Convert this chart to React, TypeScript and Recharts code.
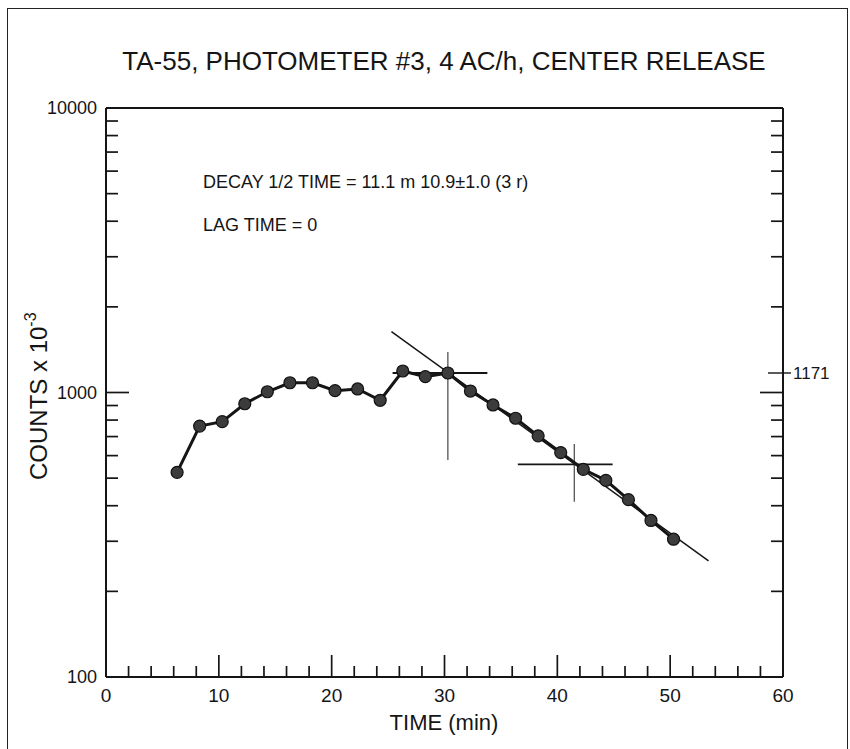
import React from "react";
import { ComposedChart, Line, XAxis, YAxis, ReferenceLine } from "recharts";

// sample times (min) and counts (x 10^-3)
const times = [6.3, 8.3, 10.3, 12.3, 14.3, 16.3, 18.3, 20.3, 22.3, 24.3, 26.3, 28.3, 30.3, 32.3, 34.3, 36.3, 38.3, 40.3, 42.3, 44.3, 46.3, 48.3, 50.3];
const counts = [524, 762, 790, 913, 1006, 1082, 1082, 1015, 1029, 939, 1190, 1137, 1171, 1012, 904, 812, 704, 615, 537, 491, 420, 355, 305];

// fitted decay line, end points
const fitTimes = [25.3, 53.4];
const fitCounts = [1636, 256];

// crosshair markers: [center t, center count, h from, h to, v top, v bottom]
const cross1 = [30.3, 1171, 25.4, 33.8, 1388, 579];
const cross2 = [41.5, 559, 36.5, 44.9, 659, 413];

const xTicks = [0, 2, 4, 6, 8, 10, 12, 14, 16, 18, 20, 22, 24, 26, 28, 30, 32, 34, 36, 38, 40, 42, 44, 46, 48, 50, 52, 54, 56, 58, 60];
const xLabels = [0, 10, 20, 30, 40, 50, 60];
const yTicks = [100, 200, 300, 400, 500, 600, 700, 800, 900, 1000, 2000, 3000, 4000, 5000, 6000, 7000, 8000, 9000, 10000];
const yLabels = [100, 1000, 10000];
const rightMark = 1171;

const data = times.map((t, i) => ({ t, v: counts[i] }));
const fitData = fitTimes.map((t, i) => ({ t, v: fitCounts[i] }));

const FONT = '"Liberation Sans", Arial, Helvetica, sans-serif';
const INK = "#151515";

const LeftTick = (props: any) => {
  const { x, y, payload } = props;
  const v = payload.value;
  const len = v === 1000 ? 23 : 12;
  return (
    <g>
      <line x1={x} y1={y} x2={x + len} y2={y} stroke={INK} strokeWidth={1.7} />
      {yLabels.includes(v) && (
        <text x={x - 9} y={y + 6} textAnchor="end" fontSize={18} fontFamily={FONT} fill={INK}>
          {v}
        </text>
      )}
    </g>
  );
};

const RightTick = (props: any) => {
  const { x, y, payload } = props;
  const v = payload.value;
  if (v === rightMark) {
    return (
      <g>
        <line x1={x - 15} y1={y} x2={x + 8} y2={y} stroke={INK} strokeWidth={1.4} />
        <text x={x + 10} y={y + 6} fontSize={17} fontFamily={FONT} fill={INK}>
          {v}
        </text>
      </g>
    );
  }
  const len = v === 1000 ? 23 : 12;
  return <line x1={x - len} y1={y} x2={x} y2={y} stroke={INK} strokeWidth={1.7} />;
};

const BottomTick = (props: any) => {
  const { x, y, payload } = props;
  const v = payload.value;
  const major = v % 10 === 0;
  return (
    <g>
      <line x1={x} y1={y} x2={x} y2={y - (major ? 22 : 11)} stroke={INK} strokeWidth={1.7} />
      {xLabels.includes(v) && (
        <text x={x} y={y + 25} textAnchor="middle" fontSize={19} fontFamily={FONT} fill={INK}>
          {v}
        </text>
      )}
    </g>
  );
};

const TopTick = (props: any) => {
  const { x, y, payload } = props;
  const major = payload.value % 10 === 0;
  return <line x1={x} y1={y} x2={x} y2={y + (major ? 22 : 11)} stroke={INK} strokeWidth={1.7} />;
};

const App: React.FC = () => {
  const crossLines = (c: number[], key: string) => [
    <ReferenceLine
      key={key + "h"}
      segment={[{ x: c[2], y: c[1] }, { x: c[3], y: c[1] }]}
      stroke={INK}
      strokeWidth={1.8}
    />,
    <ReferenceLine
      key={key + "v"}
      segment={[{ x: c[0], y: c[4] }, { x: c[0], y: c[5] }]}
      stroke="#333"
      strokeWidth={1.1}
    />,
  ];

  return (
    <div
      style={{
        position: "absolute",
        left: 0,
        top: 0,
        width: 850,
        height: 749,
        overflow: "hidden",
        background: "#fff",
      }}
    >
      <div
        style={{
          position: "absolute",
          left: 7,
          top: 8,
          width: 841,
          height: 800,
          border: "1.5px solid #222",
          boxSizing: "border-box",
        }}
      />
      <div style={{ position: "absolute", left: 0, top: 0 }}>
        <ComposedChart width={850} height={749} margin={{ top: 107, right: 66, bottom: 71, left: 105 }}>
          <XAxis
            xAxisId={0}
            dataKey="t"
            type="number"
            domain={[0, 60]}
            ticks={xTicks}
            interval={0}
            height={1}
            tickSize={0}
            tickMargin={0}
            tickLine={false}
            axisLine={{ stroke: INK, strokeWidth: 2 }}
            tick={(p: any) => <BottomTick {...p} />}
          />
          <XAxis
            xAxisId="top"
            orientation="top"
            dataKey="t"
            type="number"
            domain={[0, 60]}
            ticks={xTicks}
            interval={0}
            height={1}
            tickSize={0}
            tickMargin={0}
            tickLine={false}
            axisLine={{ stroke: INK, strokeWidth: 2 }}
            tick={(p: any) => <TopTick {...p} />}
          />
          <YAxis
            yAxisId={0}
            type="number"
            scale="log"
            domain={[100, 10000]}
            allowDataOverflow
            ticks={yTicks}
            interval={0}
            width={1}
            tickSize={0}
            tickMargin={0}
            tickLine={false}
            axisLine={{ stroke: INK, strokeWidth: 2 }}
            tick={(p: any) => <LeftTick {...p} />}
          />
          <YAxis
            yAxisId="right"
            orientation="right"
            type="number"
            scale="log"
            domain={[100, 10000]}
            allowDataOverflow
            ticks={[...yTicks, rightMark]}
            interval={0}
            width={1}
            tickSize={0}
            tickMargin={0}
            tickLine={false}
            axisLine={{ stroke: INK, strokeWidth: 2 }}
            tick={(p: any) => <RightTick {...p} />}
          />
          {crossLines(cross1, "c1")}
          {crossLines(cross2, "c2")}
          <Line
            data={fitData}
            dataKey="v"
            type="linear"
            stroke={INK}
            strokeWidth={1.5}
            dot={false}
            isAnimationActive={false}
          />
          <Line
            data={data}
            dataKey="v"
            type="linear"
            stroke={INK}
            strokeWidth={3}
            dot={{ r: 6, fill: "#3c3c3c", stroke: "#111", strokeWidth: 1.2 }}
            isAnimationActive={false}
          />
        </ComposedChart>
      </div>
      <svg
        width={850}
        height={749}
        style={{ position: "absolute", left: 0, top: 0, pointerEvents: "none" }}
        fontFamily={FONT}
        fill={INK}
      >
        <text x={444} y={70} fontSize={26} textAnchor="middle">
          TA-55, PHOTOMETER #3, 4 AC/h, CENTER RELEASE
        </text>
        <text x={203} y={188} fontSize={18}>
          DECAY 1/2 TIME = 11.1 m 10.9±1.0 (3 r)
        </text>
        <text x={203} y={231} fontSize={18}>
          LAG TIME = 0
        </text>
        <text x={444} y={730} fontSize={22} textAnchor="middle">
          TIME (min)
        </text>
        <text transform="translate(47,480) rotate(-90)" fontSize={24}>
          COUNTS x 10
          <tspan dy={-11} fontSize={16}>
            -3
          </tspan>
        </text>
      </svg>
    </div>
  );
};

export default App;
